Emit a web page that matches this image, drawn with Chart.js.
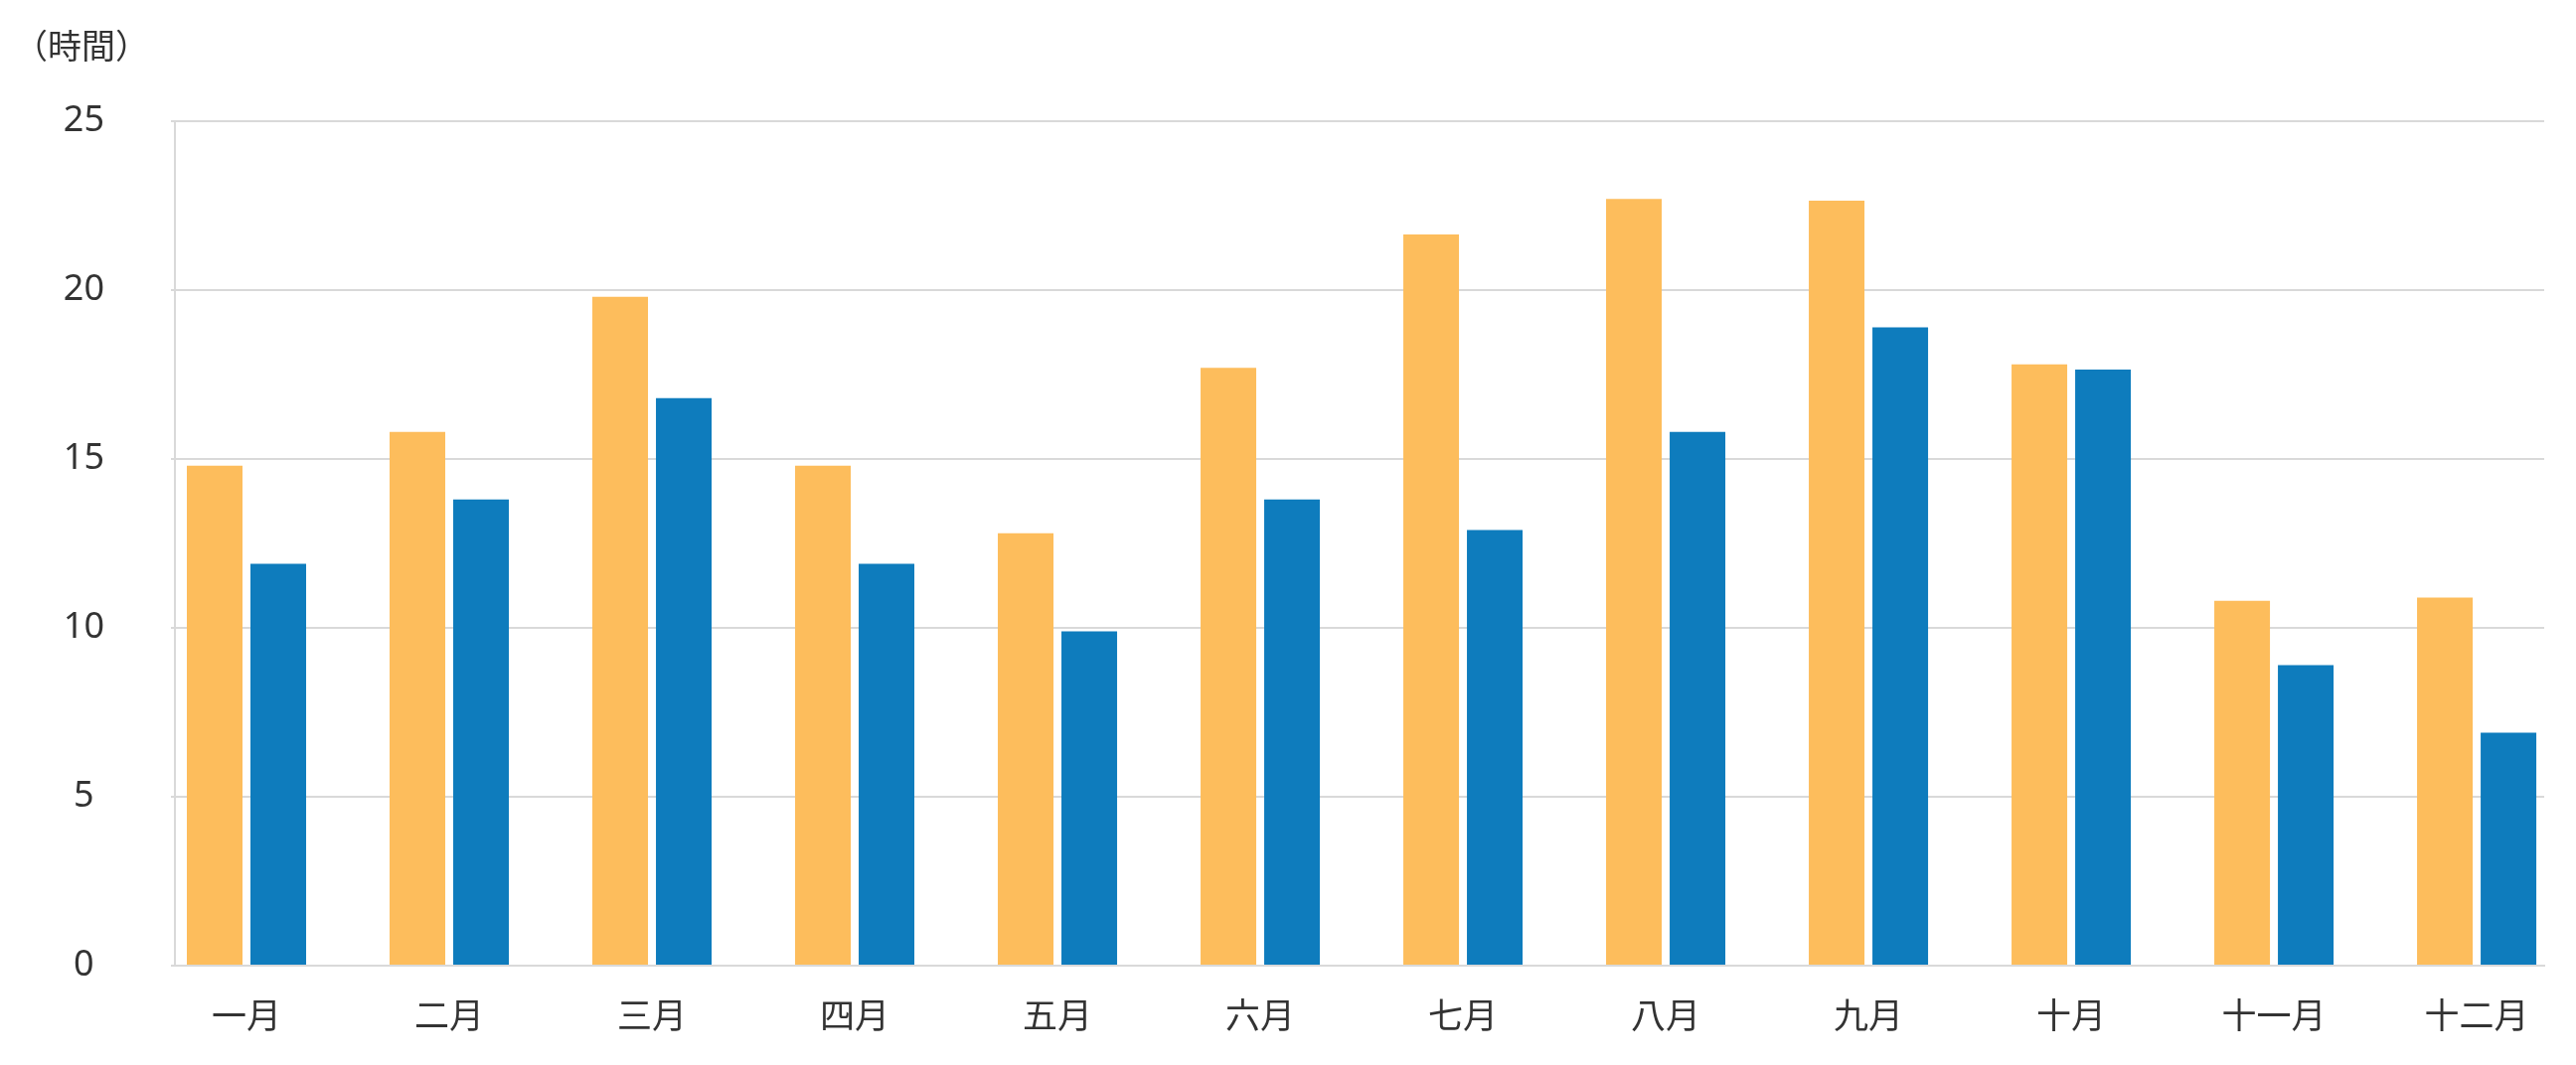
<!DOCTYPE html>
<html>
    <head>
        <meta charset="utf-8">
        <script src="https://cdn.jsdelivr.net/npm/chart.js@4.4.1/dist/chart.umd.min.js"></script>
        <style>
            body { margin: 0; background: #fff; }
            .chart-container { position: relative; width: 2592px; height: 1072px; }
        </style>
    </head>
    <body>
        <div class="chart-container">
            <canvas id="myChart"></canvas>
        </div>

        <script>
            // chart data
            const months = ['一月', '二月', '三月', '四月', '五月', '六月', '七月', '八月', '九月', '十月', '十一月', '十二月'];
            const orangeHours = [14.8, 15.8, 19.8, 14.8, 12.8, 17.7, 21.65, 22.7, 22.65, 17.8, 10.8, 10.9];
            const blueHours = [11.9, 13.8, 16.8, 11.9, 9.9, 13.8, 12.9, 15.8, 18.9, 17.65, 8.9, 6.9];
            const yTicks = [0, 5, 10, 15, 20, 25];
            const unitLabel = '（時間）';

            const FONT = "'Noto Sans', 'Noto Sans CJK JP', sans-serif";
            const TEXT_COLOR = '#333333';
            const GRID_COLOR = '#d9d9d9';

            // puts the unit text in the top left corner
            const unitTitle = {
                id: 'unitTitle',
                afterDraw(chart) {
                    const ctx = chart.ctx;
                    ctx.save();
                    ctx.font = "34px 'Noto Sans CJK JP', sans-serif";
                    ctx.fillStyle = TEXT_COLOR;
                    ctx.textBaseline = 'middle';
                    ctx.textAlign = 'left';
                    ctx.fillText(unitLabel, 14, 46);
                    ctx.restore();
                }
            };

            const toPoints = (values) => values.map((v, i) => ({ x: i, y: v }));

            const CTX = document.getElementById('myChart').getContext('2d');
            const chart = new Chart(CTX, {
                type: 'bar',
                data: {
                    datasets: [
                        {
                            data: toPoints(orangeHours),
                            backgroundColor: '#fdbd5c',
                        },
                        {
                            data: toPoints(blueHours),
                            backgroundColor: '#0e7cbd',
                        },
                    ],
                },
                options: {
                    responsive: true,
                    maintainAspectRatio: false,
                    animation: false,
                    categoryPercentage: 0.6275,
                    barPercentage: 0.875,
                    layout: {
                        padding: { top: 122, right: 32, bottom: 26, left: 0 },
                    },
                    plugins: {
                        legend: { display: false },
                        tooltip: { enabled: false },
                    },
                    scales: {
                        x: {
                            type: 'linear',
                            offset: false,
                            min: -0.353,
                            max: 11.333,
                            afterBuildTicks: (scale) => {
                                scale.ticks = months.map((m, i) => ({ value: i }));
                            },
                            afterFit: (scale) => { scale.height = 74; },
                            ticks: {
                                autoSkip: false,
                                maxRotation: 0,
                                padding: 32,
                                color: TEXT_COLOR,
                                font: { family: FONT, size: 35 },
                                callback: (v) => months[v] ?? '',
                            },
                            grid: { display: false, drawTicks: false, tickLength: 0 },
                            border: { display: true, color: GRID_COLOR, width: 2 },
                        },
                        y: {
                            min: yTicks[0],
                            max: yTicks[yTicks.length - 1],
                            afterBuildTicks: (scale) => {
                                scale.ticks = yTicks.map((v) => ({ value: v }));
                            },
                            afterFit: (scale) => { scale.width = 176; },
                            ticks: {
                                crossAlign: 'center',
                                padding: 67,
                                color: TEXT_COLOR,
                                font: { family: FONT, size: 36 },
                            },
                            grid: { color: GRID_COLOR, lineWidth: 2, tickLength: 4 },
                            border: { display: true, color: GRID_COLOR, width: 2 },
                        },
                    },
                },
                plugins: [unitTitle],
            });
        </script>
    </body>
</html>
